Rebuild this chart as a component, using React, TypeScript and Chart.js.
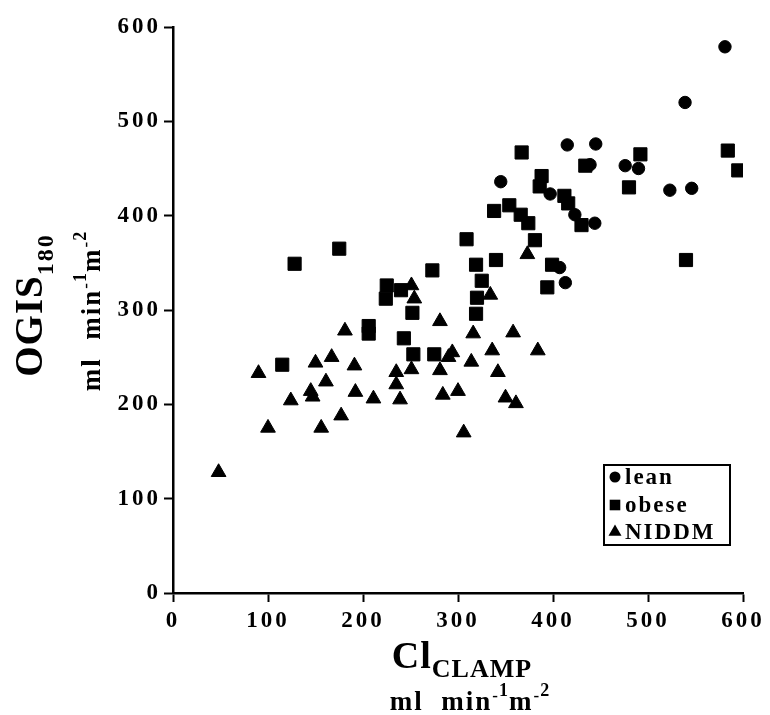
import React, { useEffect, useRef } from 'react';
import { Chart, registerables } from 'chart.js';
import { drawPoint } from 'chart.js/helpers';

Chart.register(...registerables);

const FONT = '"Liberation Serif", "Times New Roman", serif';

// lean
const leanX = [345, 397, 407, 413, 415, 423, 439, 444, 445, 476, 490, 523, 539, 546, 581];
const leanY = [436, 423, 345, 329, 475, 401, 454, 392, 476, 453, 450, 427, 520, 429, 579];

// obese
const obeseX = [115, 128, 175, 206, 206, 224, 225, 240, 243, 252, 253, 273, 275, 309, 319, 319, 320, 325, 338, 340, 354, 366, 367, 374, 381, 386, 388, 394, 399, 412, 416, 430, 434, 480, 492, 540, 584, 595];
const obeseY = [242, 349, 365, 283, 275, 312, 326, 321, 270, 297, 253, 342, 253, 375, 348, 296, 313, 331, 405, 353, 411, 401, 467, 392, 374, 431, 442, 324, 348, 421, 413, 390, 453, 430, 465, 353, 469, 448];

// NIDDM
const niddmX = [48, 90, 100, 124, 145, 147, 150, 156, 161, 167, 177, 181, 191, 192, 211, 235, 235, 239, 251, 254, 251, 281, 281, 284, 294, 290, 300, 306, 314, 316, 334, 336, 342, 350, 358, 361, 373, 384];
const niddmY = [128, 233, 175, 204, 214, 208, 244, 175, 224, 250, 188, 278, 241, 213, 206, 234, 221, 205, 326, 312, 237, 288, 236, 210, 255, 250, 214, 170, 245, 275, 316, 257, 234, 207, 276, 201, 359, 257];

const seriesLabels = ['lean', 'obese', 'NIDDM'];
const seriesStyles = ['circle', 'rect', 'triangle'];
const seriesRadii = [6.2, 9.3, 8.5];
const legendRadii = [5.5, 7.5, 7.5];
const axisTicks = [0, 100, 200, 300, 400, 500, 600];

const toPoints = (xs: number[], ys: number[]) => xs.map((x, i) => ({ x, y: ys[i] }));

type Part = { text: string; size: number; dy: number; ls: number };

function partsWidth(ctx: CanvasRenderingContext2D, parts: Part[]) {
  let w = 0;
  for (const p of parts) {
    ctx.font = `bold ${p.size}px ${FONT}`;
    (ctx as any).letterSpacing = `${p.ls}px`;
    w += ctx.measureText(p.text).width;
  }
  return w;
}

function drawParts(ctx: CanvasRenderingContext2D, parts: Part[], x: number, y: number) {
  let cx = x;
  for (const p of parts) {
    ctx.font = `bold ${p.size}px ${FONT}`;
    (ctx as any).letterSpacing = `${p.ls}px`;
    ctx.fillText(p.text, cx, y + p.dy);
    cx += ctx.measureText(p.text).width;
  }
}

const TICK_SPACING = '3px';

const spacingPlugin = {
  id: 'spacing',
  beforeLayout(chart: any) {
    chart.ctx.letterSpacing = TICK_SPACING;
  },
  beforeDraw(chart: any) {
    chart.ctx.letterSpacing = TICK_SPACING;
  },
};

const titlesPlugin = {
  id: 'titles',
  afterDraw(chart: any) {
    const ctx: CanvasRenderingContext2D = chart.ctx;
    const a = chart.chartArea;
    const midX = (a.left + a.right) / 2;
    const midY = (a.top + a.bottom) / 2;
    ctx.save();
    ctx.fillStyle = '#000';
    ctx.textAlign = 'left';
    ctx.textBaseline = 'alphabetic';

    // X title
    const xt: Part[] = [
      { text: 'Cl', size: 38, dy: 0, ls: 1 },
      { text: 'CLAMP', size: 26, dy: 9, ls: 1 },
    ];
    const xtw = partsWidth(ctx, xt);
    drawParts(ctx, xt, midX + 4 - xtw / 2, a.bottom + 75);

    const unit: Part[] = [
      { text: 'ml  min', size: 27, dy: 0, ls: 2 },
      { text: '-', size: 17, dy: -9, ls: 1 },
      { text: '1', size: 18, dy: -14, ls: 1 },
      { text: 'm', size: 27, dy: 0, ls: 2 },
      { text: '-', size: 17, dy: -9, ls: 1 },
      { text: '2', size: 18, dy: -14, ls: 1 },
    ];
    const uw = partsWidth(ctx, unit);
    drawParts(ctx, unit, midX + 12 - uw / 2, a.bottom + 117);

    // Y title
    const yt: Part[] = [
      { text: 'OGIS', size: 39, dy: 0, ls: 1 },
      { text: '180', size: 24, dy: 11, ls: 2 },
    ];
    const ytw = partsWidth(ctx, yt);
    ctx.save();
    ctx.translate(a.left - 131, midY - 5 + ytw / 2);
    ctx.rotate(-Math.PI / 2);
    drawParts(ctx, yt, 0, 0);
    ctx.restore();

    const yuw = partsWidth(ctx, unit);
    ctx.save();
    ctx.translate(a.left - 73, midY + 1 + yuw / 2);
    ctx.rotate(-Math.PI / 2);
    drawParts(ctx, unit, 0, 0);
    ctx.restore();

    // Legend
    const bx = a.right - 139;
    const by = a.bottom - 128;
    const bw = 126;
    const bh = 80;
    ctx.lineWidth = 2;
    ctx.strokeStyle = '#000';
    ctx.strokeRect(bx, by, bw, bh);
    const rows = [12, 40, 67];
    seriesLabels.forEach((lab, i) => {
      const cy = by + rows[i];
      ctx.fillStyle = '#000';
      ctx.strokeStyle = '#000';
      drawPoint(ctx, { pointStyle: seriesStyles[i] as any, radius: legendRadii[i], rotation: 0, borderWidth: 0 } as any, bx + 11, cy);
      ctx.font = `bold 23px ${FONT}`;
      (ctx as any).letterSpacing = '2px';
      ctx.fillText(lab, bx + 21, cy + 7);
    });
    ctx.restore();
  },
};

export default function App() {
  const ref = useRef<HTMLCanvasElement>(null);
  useEffect(() => {
    const tickFont = { family: FONT, size: 23, weight: 'bold' as const };
    const chart = new Chart(ref.current as HTMLCanvasElement, {
      type: 'scatter',
      data: {
        datasets: [
          { label: seriesLabels[0], data: toPoints(leanX, leanY) },
          { label: seriesLabels[1], data: toPoints(obeseX, obeseY) },
          { label: seriesLabels[2], data: toPoints(niddmX, niddmY) },
        ].map((d, i) => ({
          ...d,
          pointStyle: seriesStyles[i] as any,
          pointRadius: seriesRadii[i],
          pointHoverRadius: seriesRadii[i],
          backgroundColor: '#000',
          borderColor: '#000',
          borderWidth: 1,
        })),
      },
      options: {
        animation: false,
        responsive: true,
        maintainAspectRatio: false,
        layout: { padding: { top: 27, right: 27, left: 0, bottom: 0 } },
        plugins: {
          legend: { display: false },
          tooltip: { enabled: false },
        },
        scales: {
          x: {
            type: 'linear',
            min: 0,
            max: 600,
            afterBuildTicks: (s: any) => {
              s.ticks = axisTicks.map((v) => ({ value: v }));
            },
            afterFit: (s: any) => {
              s.height = 122;
            },
            ticks: { color: '#000', font: tickFont, padding: 5, maxRotation: 0, autoSkip: false },
            grid: { display: true, drawOnChartArea: false, drawTicks: true, tickLength: 9, tickWidth: 2, tickColor: '#000' },
            border: { display: true, color: '#000', width: 2.5 },
          },
          y: {
            type: 'linear',
            min: 0,
            max: 600,
            afterBuildTicks: (s: any) => {
              s.ticks = axisTicks.map((v) => ({ value: v }));
            },
            afterFit: (s: any) => {
              s.width = 173;
            },
            ticks: { color: '#000', font: tickFont, padding: 3, autoSkip: false },
            grid: { display: true, drawOnChartArea: false, drawTicks: true, tickLength: 9, tickWidth: 2, tickColor: '#000' },
            border: { display: true, color: '#000', width: 2.5 },
          },
        },
      },
      plugins: [spacingPlugin, titlesPlugin],
    });
    return () => chart.destroy();
  }, []);
  return (
    <div style={{ position: 'absolute', left: 0, top: 0, width: 770, height: 715 }}>
      <canvas ref={ref} />
    </div>
  );
}
